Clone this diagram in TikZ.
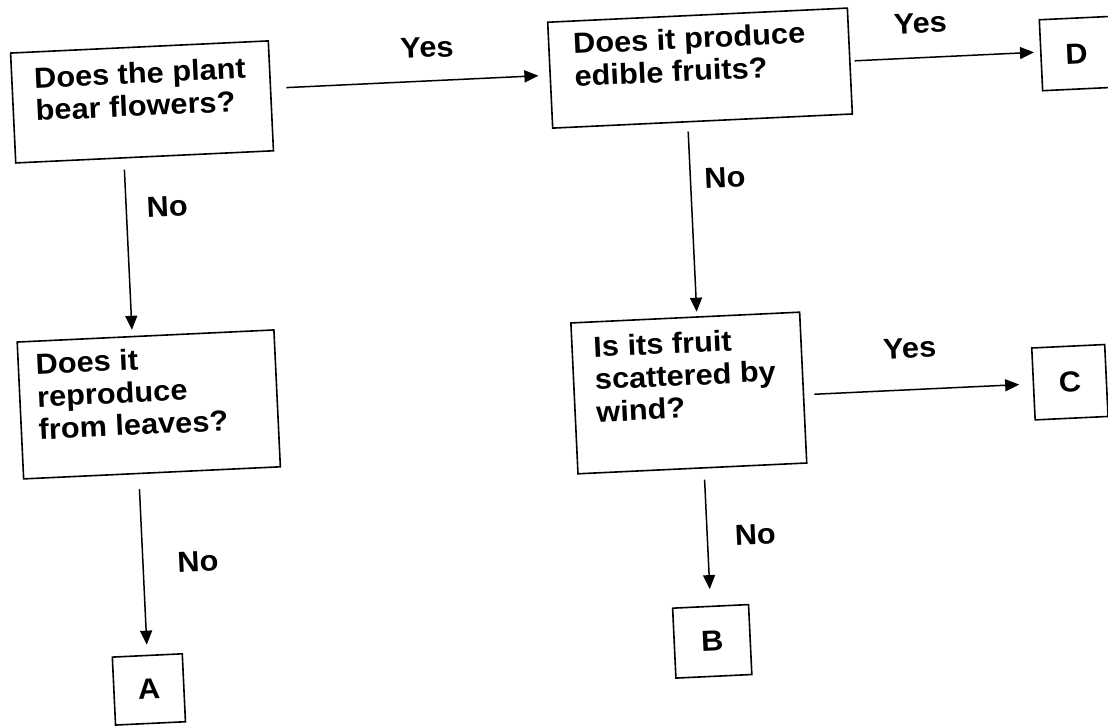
\documentclass[tikz,border=0pt]{standalone}
\usepackage{fontspec}
\setmainfont{Liberation Sans}
\newfontfamily\diagfont[FakeStretch=1.06]{Liberation Sans}
\usetikzlibrary{arrows.meta}
\begin{document}
\begin{tikzpicture}[x=1pt,y=1pt,
  qbox/.style={draw=black, line width=1.6pt, rectangle, inner sep=0pt, anchor=north west},
  qtext/.style={inner sep=0pt, align=left, anchor=north west,
                font=\diagfont\fontsize{29}{32.5}\selectfont\bfseries},
  leaf/.style={draw=black, line width=1.6pt, rectangle, inner sep=0pt,
               minimum width=72pt, minimum height=70pt,
               font=\diagfont\fontsize{29}{32.5}\selectfont\bfseries},
  lbl/.style={inner sep=0pt, font=\diagfont\fontsize{29}{32.5}\selectfont\bfseries},
  arr/.style={line width=1.5pt, -{Triangle[length=14pt,width=12pt]}},
]
\useasboundingbox (0,0) rectangle (1108,-727);
\fill[white] (0,0) rectangle (1108,-727);

\begin{scope}[rotate around={2.7:(554,-364)}, transform shape]
  % question boxes
  \node[qbox, minimum width=258pt, minimum height=110pt] (q1) at (25,-27) {};
  \node[qbox, minimum width=300pt, minimum height=106pt] (q2) at (563,-21.5) {};
  \node[qbox, minimum width=257pt, minimum height=137pt] (q3) at (18,-316) {};
  \node[qbox, minimum width=229pt, minimum height=151pt] (q4) at (572,-323) {};

  % question texts
  \node[qtext] (q1t) at (48,-43)  {Does the plant\\bear flowers?};
  \node[qtext] (q2t) at (588,-34) {Does it produce\\edible fruits?};
  \node[qtext] (q3t) at (36,-329) {Does it\\reproduce\\from leaves?};
  \node[qtext] (q4t) at (594,-338) {Is its fruit\\scattered by\\wind?};

  % outcome boxes
  \node[leaf, minimum width=70pt, minimum height=68pt] (a) at (134,-670) {A};
  \node[leaf, minimum width=76pt, minimum height=70pt] (b) at (699,-648.5) {B};
  \node[leaf, minimum width=73pt, minimum height=72pt] (c) at (1068.5,-406.5) {C};
  \node[leaf, minimum width=71pt, minimum height=71pt] (d) at (1090.5,-78.5) {D};

  % connectors
  \draw[arr, shorten <=15pt, shorten >=11pt] (q1.east |- q2.west) -- (q2.west);
  \draw[arr, shorten <=4pt, shorten >=6pt] (q2.east) -- (q2.east -| d.west);
  \draw[arr, shorten <=11pt, shorten >=6pt] (q1.south -| a.north) -- (q3.north -| a.north);
  \draw[arr, shorten <=15pt, shorten >=10pt] (q3.south -| a.north) -- (a.north);
  \draw[arr, shorten <=9pt, shorten >=4.5pt] (q2.south -| b.north) -- (q4.north -| b.north);
  \draw[arr, shorten <=10pt, shorten >=13.5pt] (q4.east |- c.west) -- (c.west);
  \draw[arr, shorten <=11pt, shorten >=16.5pt] (q4.south -| b.north) -- (b.north);

  % connector labels
  \node[lbl] (ly1) at (442,-42)   {Yes};
  \node[lbl] (ly2) at (936,-41)   {Yes};
  \node[lbl] (ly3) at (910,-365)  {Yes};
  \node[lbl] (ln1) at (175,-189)  {No};
  \node[lbl] (ln2) at (733.5,-186) {No};
  \node[lbl] (ln3) at (189,-545)  {No};
  \node[lbl] (ln4) at (747,-544)  {No};
\end{scope}
\end{tikzpicture}
\end{document}
